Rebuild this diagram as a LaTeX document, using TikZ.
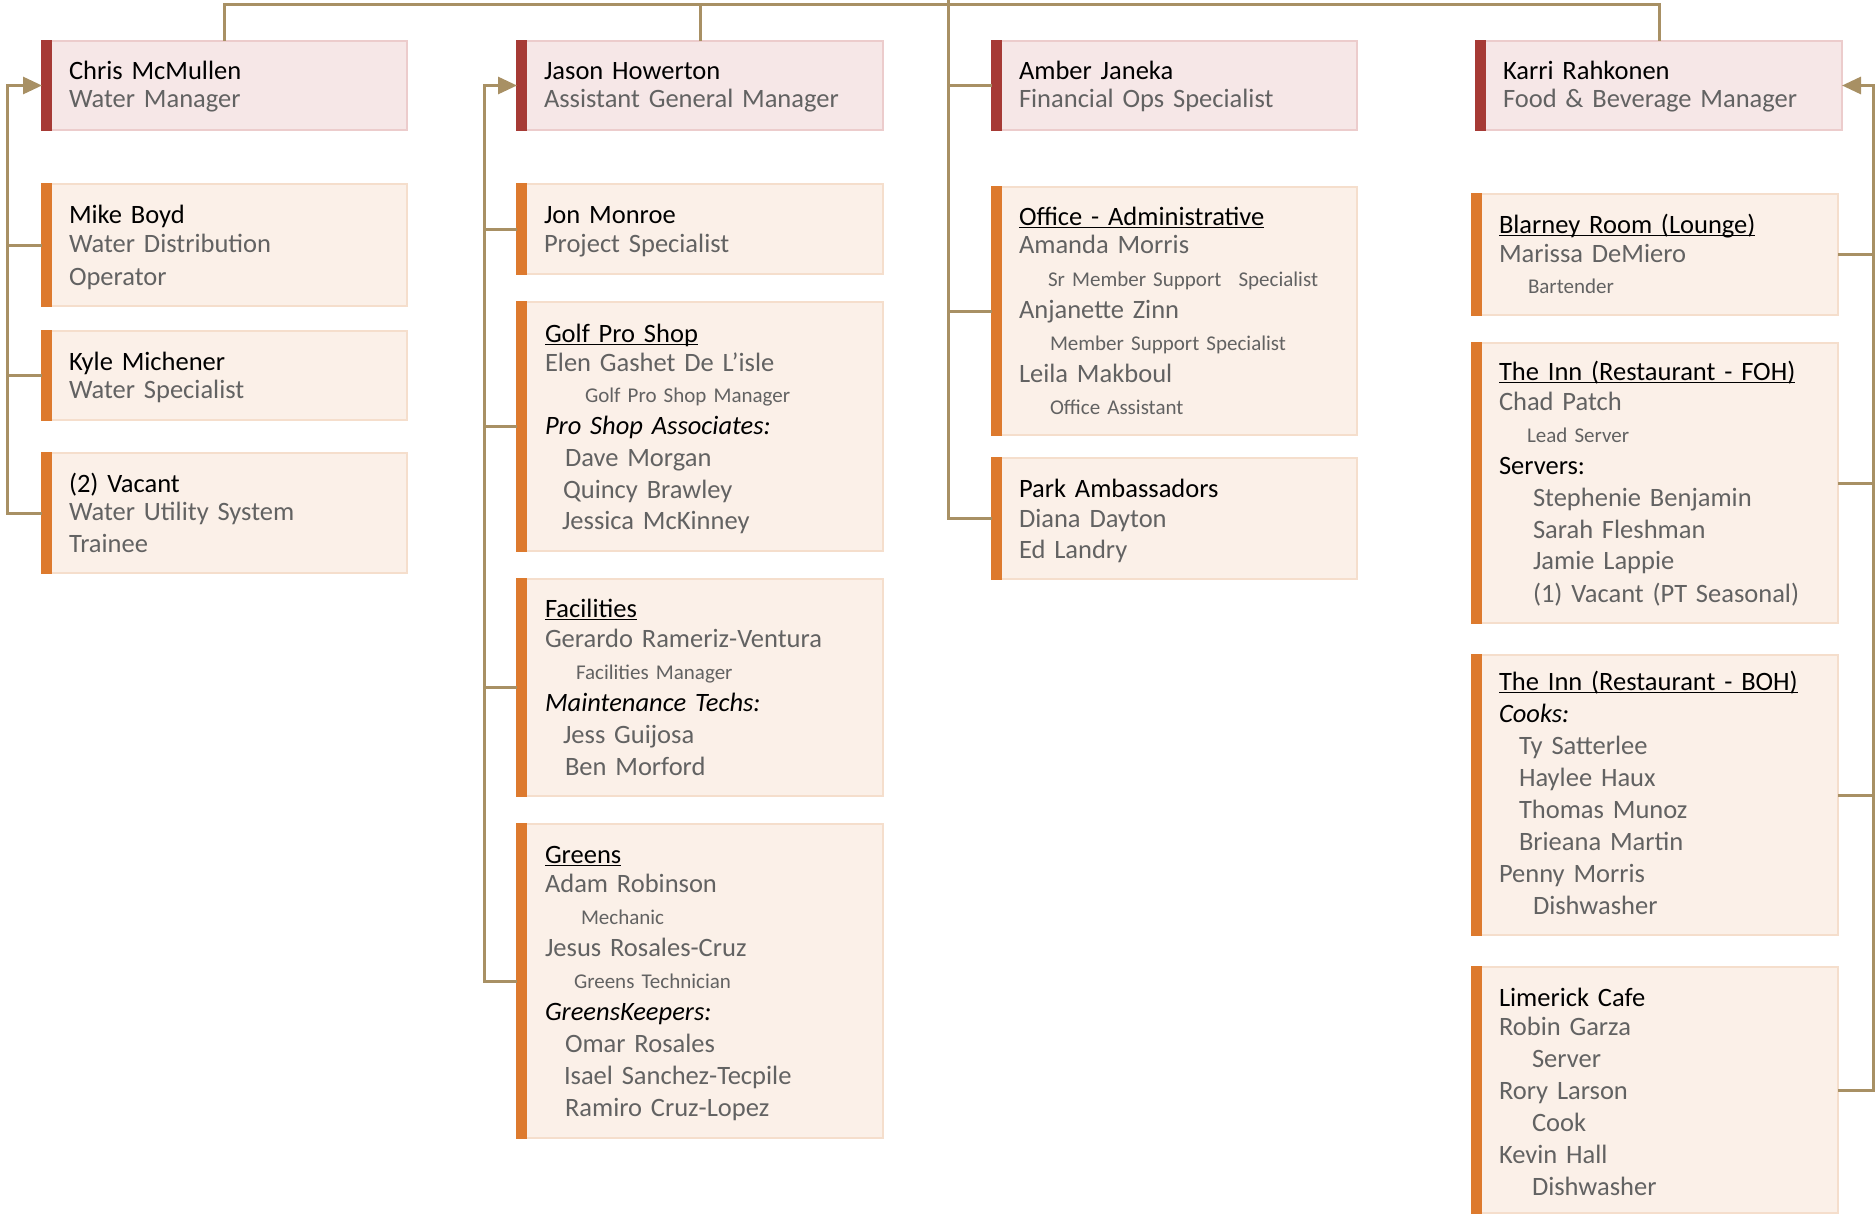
\documentclass[tikz,border=0pt]{standalone}
\usepackage{fontspec}
\setmainfont{Carlito}
\usetikzlibrary{arrows.meta}
\definecolor{conncol}{RGB}{168,144,100}
\definecolor{mfill}{RGB}{246,231,231}
\definecolor{medge}{RGB}{236,204,204}
\definecolor{mbar}{RGB}{166,58,53}
\definecolor{efill}{RGB}{251,240,232}
\definecolor{eedge}{RGB}{245,222,204}
\definecolor{ebar}{RGB}{221,122,46}
\definecolor{namegray}{RGB}{98,98,98}
\definecolor{ttlcol}{RGB}{0,0,0}
\newcommand{\smt}[1]{{\fontsize{21}{32.1}\selectfont\spaceskip=.34em\relax #1}}
\newcommand{\ttl}[1]{\textcolor{ttlcol}{#1}}
\newcommand{\ulx}[1]{\leavevmode\setbox0\hbox{#1}\rlap{\rule[-2.8pt]{\wd0}{1.3pt}}\box0}
\tikzset{
  conn/.style={draw=conncol, line width=3pt},
  mbox/.style={rectangle, draw=medge, fill=mfill, line width=2pt, inner sep=0pt, outer sep=0pt, anchor=north west},
  ebox/.style={rectangle, draw=eedge, fill=efill, line width=2pt, inner sep=0pt, outer sep=0pt, anchor=north west},
  txt/.style={anchor=north west, inner sep=0pt, outer sep=0pt, text width=330pt, align=left, text=namegray, font=\fontsize{26.5}{32.1}\selectfont},
  tipend/.style={-{Triangle[length=19pt,width=17pt]}}
}
\newcommand{\obox}[6]{%
  \node[#2box, minimum width=#5pt, minimum height=#6pt] (#1) at (#3,#4) {};
  \fill[#2bar] ([xshift=-1pt,yshift=1pt]#1.north west) rectangle ([xshift=10pt,yshift=-1pt]#1.south west);
}
\newcommand{\otext}[4]{%
  \node[txt] (#1) at (#2,#3-25) {\rule{0pt}{25pt}#4};
}
\begin{document}
\begin{tikzpicture}[x=1pt,y=-1pt]
\useasboundingbox (0,0) rectangle (1875,1215);
% ---------- column 1
\obox{chris}{m}{42}{41}{365}{89}
\otext{chrisT}{69}{80}{\ttl{Chris McMullen}\\[-4.1pt]Water Manager}
\obox{mike}{e}{42}{184}{365}{122}
\otext{mikeT}{69}{223}{\ttl{Mike Boyd}\\[-3.1pt]Water Distribution\\[0.9pt]Operator}
\obox{kyle}{e}{42}{331}{365}{89}
\otext{kyleT}{69}{370}{\ttl{Kyle Michener}\\[-4.1pt]Water Specialist}
\obox{vac}{e}{42}{453}{365}{120}
\otext{vacT}{69}{492}{\ttl{(2) Vacant}\\[-4.1pt]Water Utility System\\Trainee}
% ---------- column 2
\obox{jason}{m}{517}{41}{366}{89}
\otext{jasonT}{544}{80}{\ttl{Jason Howerton}\\[-4.1pt]Assistant General Manager}
\obox{jon}{e}{517}{184}{366}{90}
\otext{jonT}{544}{223}{\ttl{Jon Monroe}\\[-3.1pt]Project Specialist}
\obox{golf}{e}{517}{302}{366}{249}
\otext{golfT}{545}{342}{\ttl{\ulx{Golf Pro Shop}}\\[-3.1pt]Elen Gashet De L’isle\\[-0.6pt]\hspace*{40pt}\smt{Golf Pro Shop Manager}\\[-0.6pt]\ttl{\textit{Pro Shop Associates:}}\\\hspace*{20pt}Dave Morgan\\\hspace*{18pt}Quincy Brawley\\[-0.6pt]\hspace*{17pt}Jessica McKinney}
\obox{fac}{e}{517}{579}{366}{217}
\otext{facT}{545}{617}{\ttl{\ulx{Facilities}}\\[-2.1pt]Gerardo Rameriz-Ventura\\\hspace*{31pt}\smt{Facilities Manager}\\\ttl{\textit{Maintenance Techs:}}\\\hspace*{18pt}Jess Guijosa\\\hspace*{20pt}Ben Morford}
\obox{greens}{e}{517}{824}{366}{314}
\otext{greensT}{545}{863}{\ttl{\ulx{Greens}}\\[-3.1pt]Adam Robinson\\\hspace*{36pt}\smt{Mechanic}\\Jesus Rosales-Cruz\\\hspace*{29pt}\smt{Greens Technician}\\\ttl{\textit{GreensKeepers:}}\\\hspace*{20pt}Omar Rosales\\\hspace*{19pt}Isael Sanchez-Tecpile\\[-0.6pt]\hspace*{20pt}Ramiro Cruz-Lopez}
% ---------- column 3
\obox{amber}{m}{992}{41}{365}{89}
\otext{amberT}{1019}{80}{\ttl{Amber Janeka}\\[-4.1pt]Financial Ops Specialist}
\obox{office}{e}{992}{187}{365}{248}
\otext{officeT}{1019}{225}{\ttl{\ulx{Office - Administrative}}\\[-4.1pt]Amanda Morris\\[0.9pt]\hspace*{29pt}\smt{Sr Member Support\hspace{10pt} Specialist}\\Anjanette Zinn\\\hspace*{31pt}\smt{Member Support Specialist}\\Leila Makboul\\\hspace*{31pt}\smt{Office Assistant}}
\obox{park}{e}{992}{458}{365}{121}
\otext{parkT}{1019}{497}{\ttl{Park Ambassadors}\\[-2.1pt]Diana Dayton\\[-1.1pt]Ed Landry}
% ---------- column 4
\obox{karri}{m}{1476}{41}{366}{89}
\otext{karriT}{1503}{80}{\ttl{Karri Rahkonen}\\[-4.1pt]Food \& Beverage Manager}
\obox{blarney}{e}{1472}{194}{366}{121}
\otext{blarneyT}{1499}{233}{\ttl{\ulx{Blarney Room (Lounge)}}\\[-3.1pt]Marissa DeMiero\\[-1.1pt]\hspace*{29pt}\smt{Bartender}}
\obox{foh}{e}{1472}{343}{366}{280}
\otext{fohT}{1499}{380}{\ttl{\ulx{The Inn (Restaurant - FOH)}}\\[-2.1pt]Chad Patch\\\hspace*{28pt}\smt{Lead Server}\\\ttl{Servers:}\\\hspace*{34pt}Stephenie Benjamin\\\hspace*{34pt}Sarah Fleshman\\[-0.6pt]\hspace*{34pt}Jamie Lappie\\\hspace*{34pt}(1) Vacant (PT Seasonal)}
\obox{boh}{e}{1472}{655}{366}{280}
\otext{bohT}{1499}{690}{\ttl{\ulx{The Inn (Restaurant - BOH)}}\\\ttl{\textit{Cooks:}}\\\hspace*{20pt}Ty Satterlee\\\hspace*{20pt}Haylee Haux\\\hspace*{20pt}Thomas Munoz\\\hspace*{20pt}Brieana Martin\\Penny Morris\\\hspace*{34pt}Dishwasher}
\obox{lime}{e}{1472}{967}{366}{246}
\otext{limeT}{1499}{1006}{\ttl{Limerick Cafe}\\[-3.1pt]Robin Garza\\\hspace*{33pt}Server\\Rory Larson\\\hspace*{33pt}Cook\\Kevin Hall\\\hspace*{33pt}Dishwasher}
% ---------- connectors
\coordinate (busL) at (7,0);
\coordinate (busM) at (484,0);
\coordinate (busA) at (948,0);
\coordinate (busR) at (1873,0);
\coordinate (topbus) at (0,5);
\draw[conn] (chris.north) -- (chris.north |- topbus) -- (karri.north |- topbus) -- (karri.north);
\draw[conn] (jason.north) -- (jason.north |- topbus);
% column 1
\draw[conn,tipend] (vac.west) -- (vac.west -| busL) |- (chris.west);
\draw[conn] (kyle.west) -- (kyle.west -| busL);
\draw[conn] (mike.west) -- (mike.west -| busL);
% column 2
\draw[conn,tipend] (greens.west) -- (greens.west -| busM) |- (jason.west);
\draw[conn] (fac.west) -- (fac.west -| busM);
\draw[conn] (golf.west) -- (golf.west -| busM);
\draw[conn] (jon.west) -- (jon.west -| busM);
% column 3
\draw[conn] (busA) -- (busA |- park.west) -- (park.west);
\draw[conn] (office.west) -- (office.west -| busA);
\draw[conn] (amber.west) -- (amber.west -| busA);
% column 4
\draw[conn,tipend] (lime.east) -- (lime.east -| busR) |- (karri.east);
\draw[conn] (boh.east) -- (boh.east -| busR);
\draw[conn] (foh.east) -- (foh.east -| busR);
\draw[conn] (blarney.east) -- (blarney.east -| busR);
\end{tikzpicture}
\end{document}
